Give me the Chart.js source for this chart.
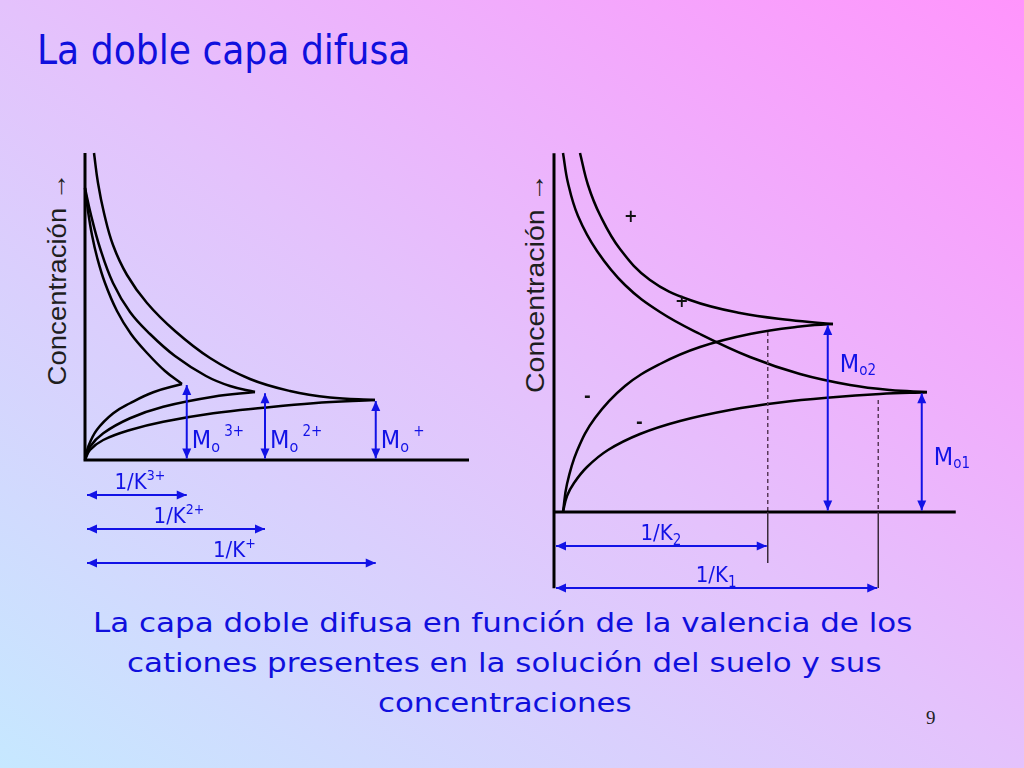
<!DOCTYPE html>
<html>
<head>
<meta charset="utf-8">
<script src="https://cdn.jsdelivr.net/npm/chart.js@4.4.1/dist/chart.umd.min.js"></script>
<style>
  body {
    margin: 0;
    width: 1024px;
    height: 768px;
    overflow: hidden;
    position: relative;
    background: linear-gradient(to top right, #c6e8ff 0%, #e4c2fc 50%, #ff94fc 100%);
    font-family: "DejaVu Sans", sans-serif;
  }
  canvas, .fit, #page { position: absolute; }
  .fit { white-space: nowrap; line-height: 1; transform-origin: 0 50%; }
  #title { left: 37px; top: 30px; font-size: 41px; color: #1010dd; font-family: "DejaVu Sans Condensed", "DejaVu Sans", sans-serif; }
  .cap { font-size: 26px; color: #1010dd; }
  .ytitle {
    font-family: "Liberation Sans", Arial, sans-serif;
    font-size: 26px;
    color: #1e1e1e;
    transform-origin: 50% 50%;
  }
  #page { left: 926px; top: 707px; font: 19px "Liberation Serif", serif; color: #222; }
</style>
</head>
<body>

<div id="title" class="fit" data-w="373">La doble capa difusa</div>

<span class="fit ytitle" data-w="213" data-rot="1" style="left:57px;top:279px">Concentración →</span>
<span class="fit ytitle" data-w="220" data-rot="1" style="left:535px;top:283px">Concentración →</span>

<canvas id="valencia" width="440" height="440" style="left:60px;top:140px"></canvas>
<canvas id="concentracion" width="460" height="460" style="left:529px;top:140px"></canvas>

<div class="fit cap" data-w="820" style="left:93px;top:610px">La capa doble difusa en función de la valencia de los</div>
<div class="fit cap" data-w="755" style="left:127px;top:650px">cationes presentes en la solución del suelo y sus</div>
<div class="fit cap" data-w="254" style="left:378px;top:690px">concentraciones</div>

<div id="page">9</div>

<script>
// ---- izquierda: valencia del catión ----
const valences = ["3+", "2+", "+"];
const moValence = [3.0, 2.67, 2.36];      // altura Mo
const invKValence = [4.07, 7.2, 11.63];   // espesor 1/K

const dec3 = [[0, 10.88], [0.12, 9.96], [0.28, 9.0], [0.48, 8.12], [0.8, 7.08], [1.28, 5.96], [1.84, 5.04], [2.52, 4.24], [3.2, 3.56], [3.88, 3.04]];
const inc3 = [[0, 0], [0.13, 0.53], [0.47, 1.2], [1.13, 1.87], [1.8, 2.27], [2.73, 2.71], [3.88, 3.04]];
const dec2 = [[0, 10.88], [0.24, 9.8], [0.6, 8.48], [1.12, 7.08], [1.8, 5.92], [2.6, 5.04], [3.6, 4.16], [4.84, 3.36], [5.8, 2.96], [6.8, 2.72]];
const inc2 = [[0, 0], [0.2, 0.53], [0.73, 1.07], [1.8, 1.67], [3.13, 2.13], [5.13, 2.53], [6.8, 2.72]];
const dec1 = [[0.36, 12.28], [0.52, 11.08], [0.76, 9.88], [1.12, 8.6], [1.68, 7.4], [2.48, 6.28], [3.6, 5.16], [5.0, 4.08], [6.6, 3.24], [8.2, 2.76], [9.8, 2.5], [11.6, 2.4]];
const inc1 = [[0, 0], [0.2, 0.4], [0.73, 0.8], [1.8, 1.2], [3.13, 1.53], [5.13, 1.87], [7.13, 2.09], [9.13, 2.27], [11.6, 2.4]];
const axis1 = [[0, 12.28], [0, 0], [15.36, 0]];

// ---- derecha: concentración de la solución ----
const concLabels = ["2", "1"];
const moConc = [7.48, 4.75];
const moConcX = [10.95, 14.71];
const invKConc = [8.55, 12.97];
const invKConcTop = [7.2, 4.48];

const decHigh = [[1.04, 14.36], [1.36, 13.08], [1.84, 11.88], [2.64, 10.52], [3.84, 9.28], [5.44, 8.48], [7.44, 7.96], [9.44, 7.68], [11.16, 7.52]];
const incHigh = [[0.36, 0], [0.52, 1.12], [0.92, 2.44], [1.64, 3.76], [2.84, 5.04], [4.24, 5.92], [5.84, 6.6], [7.84, 7.12], [9.84, 7.42], [11.16, 7.52]];
const decLow = [[0.36, 14.36], [0.56, 13.16], [0.96, 11.84], [1.72, 10.44], [2.84, 9.08], [4.24, 8.0], [5.84, 7.12], [7.84, 6.2], [9.84, 5.52], [11.84, 5.08], [13.44, 4.88], [14.92, 4.8]];
const incLow = [[0.36, 0], [0.52, 0.64], [0.8, 1.16], [1.32, 1.8], [2.16, 2.48], [3.44, 3.12], [5.04, 3.64], [7.04, 4.08], [9.04, 4.38], [11.04, 4.58], [13.04, 4.72], [14.92, 4.79]];
const yAxis2 = [[0, 14.35], [0, -3.05]];
const xAxis2 = [[0, 0], [16.07, 0]];

const BLUE = "#1212e6";
const FONT = '"DejaVu Sans Condensed", "DejaVu Sans", sans-serif';

function curve(pts, extra) {
  return Object.assign({
    data: pts.map(([x, y]) => ({ x, y })),
    showLine: true,
    borderColor: "#000",
    borderWidth: 2.5,
    pointRadius: 0,
    tension: 0.4,
    clip: false
  }, extra);
}

function straight(pts, extra) {
  return curve(pts, Object.assign({ tension: 0 }, extra));
}

function head(ctx, x, y, ang) {
  ctx.save();
  ctx.translate(x, y);
  ctx.rotate(ang);
  ctx.beginPath();
  ctx.moveTo(0, 0);
  ctx.lineTo(-10, -4.5);
  ctx.lineTo(-10, 4.5);
  ctx.closePath();
  ctx.fill();
  ctx.restore();
}

function arrow(ctx, x1, y1, x2, y2) {
  const a = Math.atan2(y2 - y1, x2 - x1);
  ctx.beginPath();
  ctx.moveTo(x1, y1);
  ctx.lineTo(x2, y2);
  ctx.stroke();
  head(ctx, x2, y2, a);
  head(ctx, x1, y1, a + Math.PI);
}

function richWidth(ctx, parts) {
  let w = 0;
  for (const p of parts) {
    ctx.font = p.size + "px " + FONT;
    w += ctx.measureText(p.t).width;
  }
  return w;
}

function rich(ctx, x, y, parts) {
  for (const p of parts) {
    ctx.font = p.size + "px " + FONT;
    ctx.fillText(p.t, x, y + (p.dy || 0));
    x += ctx.measureText(p.t).width;
  }
}

const valencePlugin = {
  id: "valence",
  afterDatasetsDraw(chart) {
    const { ctx, scales: { x, y } } = chart;
    const x0 = x.getPixelForValue(0);
    const y0 = y.getPixelForValue(0);
    ctx.save();
    ctx.strokeStyle = BLUE;
    ctx.fillStyle = BLUE;
    ctx.lineWidth = 2;
    valences.forEach((v, i) => {
      const px = x.getPixelForValue(invKValence[i]);
      arrow(ctx, px, y0 - 1.5, px, y.getPixelForValue(moValence[i]));
      rich(ctx, px + 5, y0 - 12, [
        { t: "M", size: 25 },
        { t: "o", size: 16, dy: 4 },
        { t: " " + v, size: 15, dy: -12 }
      ]);
      const ry = y0 + 35 + 34 * i;
      arrow(ctx, x0 + 2, ry, px, ry);
      const lab = [{ t: "1/K", size: 22 }, { t: v, size: 14, dy: -9 }];
      rich(ctx, (x0 + px) / 2 - richWidth(ctx, lab) / 2 + 4, ry - 6, lab);
    });
    ctx.restore();
  }
};

const concPlugin = {
  id: "conc",
  afterDatasetsDraw(chart) {
    const { ctx, scales: { x, y } } = chart;
    const x0 = x.getPixelForValue(0);
    const y0 = y.getPixelForValue(0);
    const rows = [34, 76];
    const drop = [17, 0];
    const labelDy = [47, 72];
    ctx.save();
    concLabels.forEach((c, i) => {
      const kx = x.getPixelForValue(invKConc[i]);
      const ry = y0 + rows[i];
      ctx.strokeStyle = "#3a2a3a";
      ctx.lineWidth = 1.5;
      ctx.beginPath();
      ctx.moveTo(kx, y0);
      ctx.lineTo(kx, ry + drop[i]);
      ctx.stroke();

      ctx.strokeStyle = BLUE;
      ctx.fillStyle = BLUE;
      ctx.lineWidth = 2;
      arrow(ctx, x0 + 2, ry, kx - 1, ry);
      const lab = [{ t: "1/K", size: 22 }, { t: c, size: 15, dy: 5 }];
      rich(ctx, (x0 + kx) / 2 - richWidth(ctx, lab) / 2, ry - 6, lab);

      const mx = x.getPixelForValue(moConcX[i]);
      const top = y.getPixelForValue(moConc[i]);
      arrow(ctx, mx, y0 - 1.5, mx, top);
      rich(ctx, mx + 12, top + labelDy[i], [
        { t: "M", size: 25 },
        { t: "o" + c, size: 15, dy: 3 }
      ]);
    });

    ctx.fillStyle = "#111";
    ctx.font = "bold 18px " + FONT;
    ctx.textAlign = "center";
    ctx.textBaseline = "middle";
    [["+", 3.07, 11.79], ["+", 5.11, 8.37], ["-", 1.33, 4.57], ["-", 3.41, 3.55]].forEach(([t, sx, sy]) => {
      ctx.fillText(t, x.getPixelForValue(sx), y.getPixelForValue(sy));
    });
    ctx.restore();
  }
};

function makeChart(id, datasets, range, plugin) {
  return new Chart(document.getElementById(id), {
    type: "scatter",
    data: { datasets },
    options: {
      responsive: false,
      animation: false,
      events: [],
      layout: { padding: 0 },
      scales: {
        x: { type: "linear", display: false, min: range[0], max: range[1] },
        y: { type: "linear", display: false, min: range[2], max: range[3] }
      },
      plugins: { legend: { display: false }, tooltip: { enabled: false } }
    },
    plugins: [plugin]
  });
}

makeChart("valencia", [
  straight(axis1, { borderWidth: 3 }),
  curve(dec3), curve(inc3),
  curve(dec2), curve(inc2),
  curve(dec1), curve(inc1)
], [-1, 16.6, -4.8, 12.8], valencePlugin);

const dashed = invKConc.map((k, i) => straight([[k, invKConcTop[i]], [k, 0]], {
  borderColor: "#5a3a5a", borderWidth: 1.5, borderDash: [4, 3]
}));

makeChart("concentracion", [
  straight(yAxis2, { borderWidth: 3 }),
  straight(xAxis2, { borderWidth: 3 }),
  ...dashed,
  curve(decHigh), curve(incHigh),
  curve(decLow), curve(incLow)
], [-1, 17.4, -3.52, 14.88], concPlugin);

function fit() {
  document.querySelectorAll(".fit").forEach(el => {
    const s = el.dataset.w / el.offsetWidth;
    el.style.transform = (el.dataset.rot ? "translate(-50%, -50%) rotate(-90deg) " : "") + "scaleX(" + s + ")";
  });
}
fit();
document.fonts.ready.then(fit);
</script>
</body>
</html>
